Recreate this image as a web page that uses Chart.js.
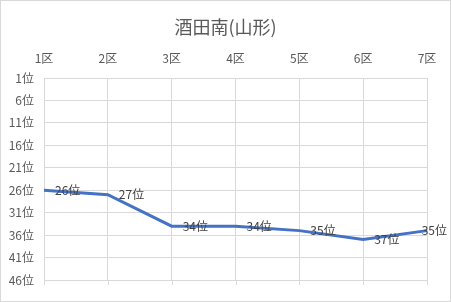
<!DOCTYPE html>
<html lang="ja">
<head>
<meta charset="UTF-8">
<title>酒田南(山形)</title>
<script src="https://cdn.jsdelivr.net/npm/chart.js"></script>
<style>
  body { margin: 0; background: #fff; }
  #wrap { width: 449px; height: 300px; border: 1px solid #d9d9d9; background: #fff; }
</style>
</head>
<body>
<div id="wrap"><canvas id="rankChart" width="449" height="300"></canvas></div>
<script>
// data
const chartTitle = '酒田南(山形)';
const sections = ['1区', '2区', '3区', '4区', '5区', '6区', '7区'];
const ranks = [26, 27, 34, 34, 35, 37, 35];
const rankTicks = [1, 6, 11, 16, 21, 26, 31, 36, 41, 46];

const FONT = '"Noto Sans CJK JP", "Noto Sans", sans-serif';

// title centred on the whole canvas (the built-in one centres on the padded box)
const centredTitle = {
    id: 'centredTitle',
    afterDraw(chart) {
        const ctx = chart.ctx;
        ctx.save();
        ctx.font = '18px ' + FONT;
        ctx.fillStyle = '#595959';
        ctx.textAlign = 'center';
        ctx.textBaseline = 'middle';
        ctx.fillText(chartTitle, chart.width / 2, 26);
        ctx.restore();
    }
};

// draw "NN位" next to each point
const pointLabels = {
    id: 'pointLabels',
    afterDatasetsDraw(chart) {
        const ctx = chart.ctx;
        const meta = chart.getDatasetMeta(0);
        ctx.save();
        ctx.font = '12px ' + FONT;
        ctx.fillStyle = '#404040';
        ctx.textAlign = 'left';
        ctx.textBaseline = 'middle';
        meta.data.forEach((pt, i) => {
            const txt = ranks[i] + '位';
            const w = ctx.measureText(txt).width;
            let x = pt.x + 11;
            if (x + w > chart.width - 3) x = chart.width - 3 - w;
            ctx.fillText(txt, x, pt.y);
        });
        ctx.restore();
    }
};

// short tick marks below the plot, like the original
const bottomTicks = {
    id: 'bottomTicks',
    beforeDatasetsDraw(chart) {
        const ctx = chart.ctx;
        const xs = chart.scales.x;
        const bottom = chart.chartArea.bottom;
        ctx.save();
        ctx.strokeStyle = '#d9d9d9';
        ctx.lineWidth = 1;
        sections.forEach((s, i) => {
            const x = Math.round(xs.getPixelForTick(i)) + 0.5;
            ctx.beginPath();
            ctx.moveTo(x, bottom);
            ctx.lineTo(x, bottom + 5);
            ctx.stroke();
        });
        ctx.restore();
    }
};

new Chart(document.getElementById('rankChart'), {
    type: 'line',
    data: {
        labels: sections,
        datasets: [{
            data: ranks,
            borderColor: '#4472c4',
            borderWidth: 3,
            pointRadius: 0,
            tension: 0
        }]
    },
    options: {
        responsive: false,
        animation: false,
        layout: { padding: { left: 0, right: 23, bottom: 21, top: 40 } },
        plugins: {
            legend: { display: false },
            tooltip: { enabled: false },
            title: { display: false }
        },
        scales: {
            x: {
                position: 'top',
                offset: false,
                grid: { color: '#d9d9d9', drawTicks: false },
                border: { display: false },
                ticks: { color: '#595959', font: { family: FONT, size: 12 }, padding: 12, maxRotation: 0 },
                afterFit(scale) { scale.height = 37; }
            },
            y: {
                reverse: true,
                min: 1,
                max: 46,
                grid: { color: '#d9d9d9', drawTicks: false },
                border: { display: false },
                ticks: {
                    color: '#595959',
                    font: { family: FONT, size: 12 },
                    padding: 10,
                    callback: v => v + '位'
                },
                afterBuildTicks(scale) { scale.ticks = rankTicks.map(v => ({ value: v })); },
                afterFit(scale) { scale.width = 43; }
            }
        }
    },
    plugins: [pointLabels, bottomTicks, centredTitle]
});
</script>
</body>
</html>
